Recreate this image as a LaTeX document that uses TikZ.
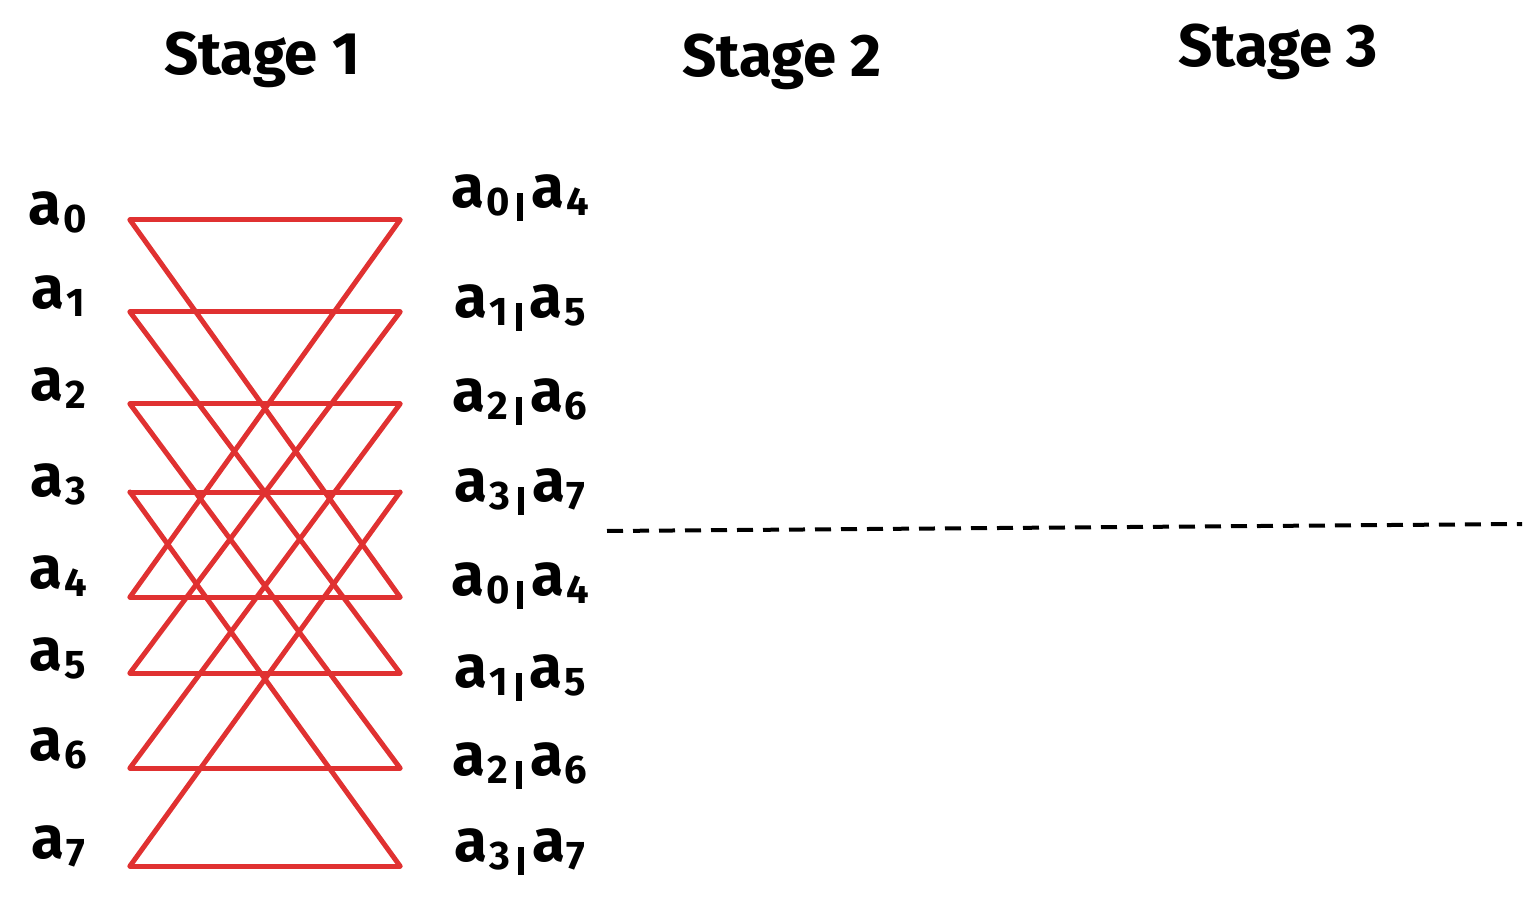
\documentclass[tikz,border=0pt]{standalone}
\usepackage{fontspec}
\setmainfont{Fira Sans}
\definecolor{sred}{RGB}{224,49,49}
\newcommand{\sa}[1]{a\kern2pt\raisebox{-8pt}{\fontsize{40}{42}\selectfont #1}}
\begin{document}
\begin{tikzpicture}[x=1pt,y=-1pt,
  title/.style={font=\fontsize{60}{64}\selectfont\bfseries},
  lab/.style={font=\fontsize{60}{64}\selectfont\bfseries, anchor=center},
  wire/.style={sred, line width=5pt, line cap=round}]
\useasboundingbox (0,0) rectangle (1535,909);
\node[title] (s1) at (262,60) {Stage 1};
\node[title] (s2) at (782,62) {Stage 2};
\node[title] (s3) at (1278,52) {Stage 3};
\foreach \i/\y in {0/212,1/296,2/388,3/484,4/576,5/658,6/748,7/846}
  \node[lab] (l\i) at (58,\y) {\sa{\i}};
\foreach \i/\j/\y in {0/4/198,1/5/308,2/6/402,3/7/492,0/4/586,1/5/678,2/6/766,3/7/852}
  \node[lab] (r\y) at (520,\y) {\sa{\i}\hspace{8pt}\raisebox{-14pt}{\rule{6pt}{28pt}}\hspace{8pt}\sa{\j}};
\foreach \k/\y in {0/220,1/312,2/404,3/492,4/597,5/673,6/768,7/866}{
  \coordinate (L\k) at (130,\y);
  \coordinate (R\k) at (400,\y);
}
\foreach \k in {0,...,7} \draw[wire] (L\k) -- (R\k);
\foreach \k [evaluate=\k as \m using int(\k+4)] in {0,...,3}{
  \draw[wire] (L\k) -- (R\m);
  \draw[wire] (R\k) -- (L\m);
}
\coordinate (d1) at (607,531);
\coordinate (d2) at (1522,524);
\draw[line width=4pt, dash pattern=on 16pt off 10pt] (d1) -- (d2);
\end{tikzpicture}
\end{document}
